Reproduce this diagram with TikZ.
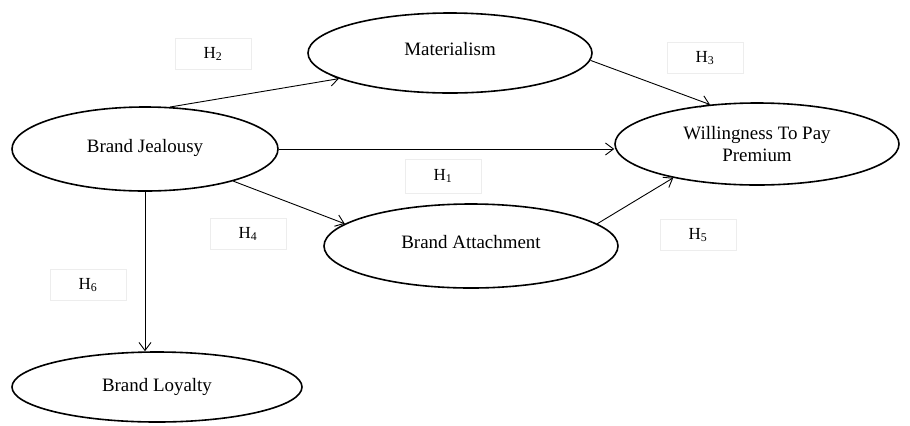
\documentclass[tikz,border=0pt]{standalone}
\usepackage{fontspec}
\setmainfont{Liberation Serif}
\usetikzlibrary{shapes.geometric, arrows.meta}

\begin{document}
\begin{tikzpicture}[x=1bp, y=-1bp,
    construct/.style={ellipse, draw, line width=1.6bp, inner sep=0pt, align=center, font=\fontsize{19}{22}\selectfont},
    hyp/.style={draw=black!7, line width=0.5bp, minimum width=76bp, minimum height=31bp, font=\fontsize{17}{20}\selectfont},
    link/.style={-{Straight Barb[length=8bp, width=12bp]}, line width=0.9bp}]
    \useasboundingbox (0,0) rectangle (910,425);

    \node[construct, minimum width=266bp, minimum height=84bp] (bj) at (145,149) {\raisebox{7bp}{Brand Jealousy}};
    \node[construct, minimum width=284bp, minimum height=80bp] (mat) at (450,53) {\raisebox{9bp}{Materialism}};
    \node[construct, minimum width=284bp, minimum height=82bp] (wtp) at (757,144) {Willingness To Pay\\Premium};
    \node[construct, minimum width=294bp, minimum height=84bp] (ba) at (471,246) {\raisebox{8bp}{Brand Attachment}};
    \node[construct, minimum width=290bp, minimum height=70bp] (bl) at (157,387) {\raisebox{4bp}{Brand Loyalty}};

    \node[hyp] (h2) at (213,54) {H\textsubscript{2}};
    \node[hyp] (h3) at (705,58) {H\textsubscript{3}};
    \node[hyp, minimum height=34bp] (h1) at (443,176) {H\textsubscript{1}};
    \node[hyp] (h4) at (248,234) {H\textsubscript{4}};
    \node[hyp] (h5) at (698,235) {H\textsubscript{5}};
    \node[hyp] (h6) at (88,285) {H\textsubscript{6}};

    \draw[link] (bj.59) -- (mat.193);
    \draw[link] (mat.-3) -- (wtp.140);
    \draw[link] (bj.east) -- (bj.east -| wtp.west);
    \draw[link] (bj.-20) -- (ba.170);
    \draw[link] (ba.10) -- (wtp.202);
    \draw[link] (bj.south) -- (bj.south |- bl.north);
\end{tikzpicture}
\end{document}
